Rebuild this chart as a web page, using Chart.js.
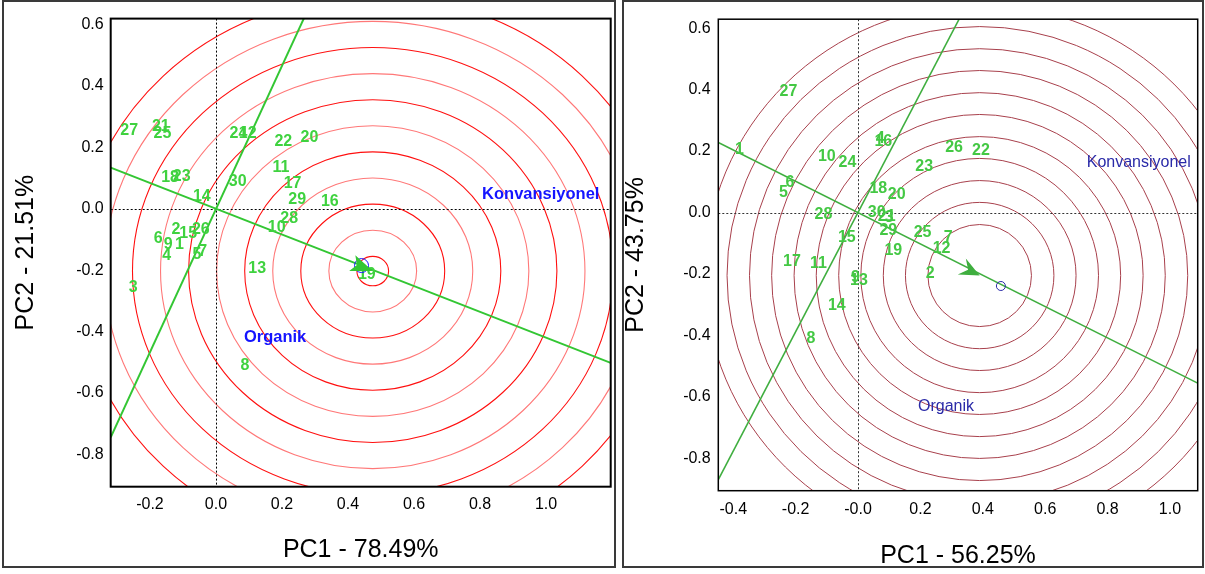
<!DOCTYPE html>
<html><head><meta charset="utf-8">
<script src="https://cdn.jsdelivr.net/npm/chart.js@4.4.1/dist/chart.umd.min.js"></script>
<style>
html,body{margin:0;padding:0;background:#fff;width:1205px;height:574px;overflow:hidden;}
.frame{position:absolute;box-sizing:border-box;border:2px solid #3a3a3a;}
canvas{position:absolute;}
</style></head><body>
<div class="frame" style="left:2px;top:0px;width:614px;height:568px"></div>
<div class="frame" style="left:622px;top:0px;width:582px;height:568px"></div>
<canvas id="left" width="610" height="564" style="left:4px;top:2px"></canvas>
<canvas id="right" width="578" height="564" style="left:624px;top:2px"></canvas>
<script>
// ---------- LEFT BIPLOT DATA ----------
const leftGenotypes = ['1','2','3','4','5','6','7','8','9','10','11','12','13','14','15','16','17','18','19','20','21','22','23','24','25','26','27','28','29','30'];
const leftPC1 = [-0.111,-0.121,-0.251,-0.149,-0.058,-0.175,-0.040,0.088,-0.145,0.184,0.197,0.096,0.125,-0.043,-0.084,0.345,0.232,-0.139,0.457,0.283,-0.167,0.204,-0.104,0.068,-0.162,-0.046,-0.263,0.222,0.246,0.066];
const leftPC2 = [-0.116,-0.069,-0.257,-0.153,-0.148,-0.098,-0.141,-0.511,-0.116,-0.063,0.135,0.243,-0.194,0.040,-0.081,0.023,0.083,0.101,-0.214,0.233,0.268,0.217,0.106,0.243,0.243,-0.067,0.254,-0.032,0.030,0.087];
const leftEnvNames = ['Konvansiyonel','Organik'];
const leftEnvPC1 = [0.984, 0.179];
const leftEnvPC2 = [0.047, -0.418];
const leftAbscissaX = [-0.319, 1.196];
const leftAbscissaY = [0.134, -0.502];
const leftOrdinateX = [-0.319, 0.266];
const leftOrdinateY = [-0.744, 0.619];
const leftIdeal = [0.475, -0.203];
const leftAvgEnv = [0.441, -0.185];
const leftRingRadii = [0.048,0.133,0.218,0.303,0.388,0.473,0.558,0.643,0.728,0.813,0.898];
const leftXTickValues = [-0.2,0,0.2,0.4,0.6,0.8,1.0];
const leftXTickLabels = ['-0.2','0.0','0.2','0.4','0.6','0.8','1.0'];
const leftYTickValues = [0.6,0.4,0.2,0,-0.2,-0.4,-0.6,-0.8];
const leftYTickLabels = ['0.6','0.4','0.2','0.0','-0.2','-0.4','-0.6','-0.8'];
const leftXRange = [-0.319, 1.196];
const leftYRange = [-0.905, 0.619];
const leftXTitle = 'PC1 - 78.49%';
const leftYTitle = 'PC2 - 21.51%';

// ---------- RIGHT BIPLOT DATA ----------
const rightGenotypes = ['1','2','3','4','5','6','7','8','9','10','11','12','13','14','15','16','17','18','19','20','21','22','23','24','25','26','27','28','29','30'];
const rightPC1 = [-0.380,0.231,0.100,0.071,-0.239,-0.218,0.289,-0.151,-0.008,-0.100,-0.127,0.268,0.003,-0.068,-0.036,0.081,-0.212,0.065,0.113,0.124,0.092,0.394,0.212,-0.034,0.207,0.308,-0.223,-0.111,0.097,0.060];
const rightPC2 = [0.204,-0.199,-0.018,0.240,0.066,0.096,-0.080,-0.410,-0.212,0.182,-0.167,-0.116,-0.220,-0.302,-0.082,0.232,-0.159,0.077,-0.123,0.058,-0.012,0.201,0.149,0.163,-0.066,0.210,0.394,-0.006,-0.058,-0.001];
const rightEnvNames = ['Konvansiyonel','Organik'];
const rightEnvPC1 = [0.900, 0.282];
const rightEnvPC2 = [0.163, -0.632];
const rightAbscissaX = [-0.448, 1.089];
const rightAbscissaY = [0.228, -0.555];
const rightOrdinateX = [-0.448, 0.324];
const rightOrdinateY = [-0.869, 0.629];
const rightIdeal = [0.390, -0.205];
const rightAvgEnv = [0.458, -0.239];
const rightRingRadii = [0.166,0.238,0.309,0.381,0.452,0.524,0.595,0.667,0.738,0.810,0.881];
const rightXTickValues = [-0.4,-0.2,0,0.2,0.4,0.6,0.8,1.0];
const rightXTickLabels = ['-0.4','-0.2','-0.0','0.2','0.4','0.6','0.8','1.0'];
const rightYTickValues = [0.6,0.4,0.2,0,-0.2,-0.4,-0.6,-0.8];
const rightYTickLabels = ['0.6','0.4','0.2','0.0','-0.2','-0.4','-0.6','-0.8'];
const rightXRange = [-0.448, 1.089];
const rightYRange = [-0.905, 0.629];
const rightXTitle = 'PC1 - 56.25%';
const rightYTitle = 'PC2 - 43.75%';

const FONT = '"Liberation Sans", Arial, Helvetica, sans-serif';

function pts(xs, ys){ return xs.map((x,i)=>({x:x, y:ys[i]})); }

const biplotPlugin = {
  id: 'biplot',
  beforeDatasetsDraw(chart, args, o) {
    const {ctx, chartArea:a, scales:{x:xs, y:ys}} = chart;
    ctx.save();
    ctx.beginPath(); ctx.rect(a.left, a.top, a.right-a.left, a.bottom-a.top); ctx.clip();
    const cx = xs.getPixelForValue(o.ideal[0]), cy = ys.getPixelForValue(o.ideal[1]);
    o.rings.forEach((r, k) => {
      const rx = Math.abs(xs.getPixelForValue(o.ideal[0]+r) - cx);
      const ry = Math.abs(ys.getPixelForValue(o.ideal[1]+r) - cy);
      ctx.beginPath();
      ctx.ellipse(cx, cy, rx, ry, 0, 0, Math.PI*2);
      ctx.strokeStyle = o.ringColors[k % o.ringColors.length];
      ctx.lineWidth = o.ringWidth;
      ctx.stroke();
    });
    ctx.setLineDash(o.zeroDash);
    ctx.strokeStyle = o.zeroColor; ctx.lineWidth = 1;
    const x0 = Math.round(xs.getPixelForValue(0)) + 0.5;
    const y0 = Math.round(ys.getPixelForValue(0)) + 0.5;
    ctx.beginPath(); ctx.moveTo(x0, a.top); ctx.lineTo(x0, a.bottom); ctx.stroke();
    ctx.beginPath(); ctx.moveTo(a.left, y0); ctx.lineTo(a.right, y0); ctx.stroke();
    ctx.restore();
  },
  afterDatasetsDraw(chart, args, o) {
    const {ctx, chartArea:a, scales:{x:xs, y:ys}} = chart;
    ctx.save();
    ctx.beginPath(); ctx.rect(a.left, a.top, a.right-a.left, a.bottom-a.top); ctx.clip();
    const meta = chart.getDatasetMeta(0);
    ctx.font = o.labelFont; ctx.fillStyle = o.labelColor;
    ctx.textAlign = 'center'; ctx.textBaseline = 'middle';
    meta.data.forEach((el, i) => { ctx.fillText(o.labels[i], el.x, el.y); });
    ctx.font = o.envFont; ctx.fillStyle = o.envColor;
    o.envNames.forEach((n, i) => {
      ctx.fillText(n, xs.getPixelForValue(o.envX[i]), ys.getPixelForValue(o.envY[i]));
    });
    ctx.beginPath();
    ctx.arc(xs.getPixelForValue(o.avgEnv[0]), ys.getPixelForValue(o.avgEnv[1]), o.markerR, 0, Math.PI*2);
    ctx.strokeStyle = o.envColor; ctx.lineWidth = 1; ctx.stroke();
    const p0x = xs.getPixelForValue(o.dirX[0]), p0y = ys.getPixelForValue(o.dirY[0]);
    const p1x = xs.getPixelForValue(o.dirX[1]), p1y = ys.getPixelForValue(o.dirY[1]);
    let ux = p1x-p0x, uy = p1y-p0y; const len = Math.hypot(ux, uy); ux/=len; uy/=len;
    const nx = -uy, ny = ux;
    const tx = xs.getPixelForValue(o.ideal[0]), ty = ys.getPixelForValue(o.ideal[1]);
    const L = o.arrow[0], W = o.arrow[1], N = o.arrow[2];
    const bx = tx-ux*L, by = ty-uy*L;
    ctx.beginPath();
    ctx.moveTo(tx, ty);
    ctx.lineTo(bx+nx*W, by+ny*W);
    ctx.lineTo(tx-ux*N, ty-uy*N);
    ctx.lineTo(bx-nx*W, by-ny*W);
    ctx.closePath();
    ctx.fillStyle = o.arrowColor; ctx.fill();
    ctx.restore();
    ctx.save();
    ctx.strokeStyle = '#000'; ctx.lineWidth = o.boxWidth;
    ctx.strokeRect(a.left, a.top, a.right-a.left, a.bottom-a.top);
    ctx.restore();
  }
};

function makeChart(id, d) {
  const tickFont = {family: FONT, size: 16};
  const titleFont = {family: FONT, size: 25, lineHeight: d.titleLH};
  new Chart(document.getElementById(id), {
    type: 'scatter',
    data: { datasets: [
      { data: pts(d.px, d.py), pointRadius: 0, showLine: false },
      { data: pts(d.abX, d.abY), showLine: true, pointRadius: 0, borderColor: d.lineColor, borderWidth: d.lineWidth },
      { data: pts(d.orX, d.orY), showLine: true, pointRadius: 0, borderColor: d.lineColor, borderWidth: d.lineWidth }
    ]},
    options: {
      responsive: false, animation: false, events: [],
      layout: { padding: d.padding },
      plugins: {
        legend: {display: false}, tooltip: {enabled: false},
        biplot: {
          ideal: d.ideal, rings: d.rings, ringColors: d.ringColors, ringWidth: d.ringWidth,
          zeroDash: d.zeroDash, zeroColor: d.zeroColor,
          labels: d.labels, labelFont: d.labelFont, labelColor: d.labelColor,
          envNames: d.envNames, envX: d.envX, envY: d.envY, envFont: d.envFont, envColor: d.envColor,
          avgEnv: d.avgEnv, markerR: d.markerR,
          dirX: d.abX, dirY: d.abY, arrow: d.arrow, arrowColor: d.lineColor, boxWidth: d.boxWidth
        }
      },
      scales: {
        x: {
          type: 'linear', bounds: 'data', min: d.xRange[0], max: d.xRange[1],
          afterBuildTicks: s => { s.ticks = d.xTickValues.map(v => ({value: v})); },
          afterFit: s => { s.height = d.xAxisH; },
          ticks: { callback: (v, i) => d.xTickLabels[i], font: tickFont, color: '#000', padding: d.xTickPad, autoSkip: false, maxRotation: 0 },
          grid: { display: false, drawTicks: false }, border: { display: false },
          title: { display: true, text: d.xTitle, font: titleFont, color: '#000', padding: {top: 0, bottom: d.xTitlePad} }
        },
        y: {
          type: 'linear', bounds: 'data', min: d.yRange[0], max: d.yRange[1],
          afterBuildTicks: s => { s.ticks = d.yTickValues.map(v => ({value: v})); },
          afterFit: s => { s.width = d.yAxisW; },
          ticks: { callback: (v, i) => d.yTickLabels[i], font: tickFont, color: '#000', padding: d.yTickPad, autoSkip: false },
          grid: { display: false, drawTicks: false }, border: { display: false },
          title: { display: true, text: d.yTitle, font: titleFont, color: '#000', padding: {top: d.yTitlePad, bottom: 0} }
        }
      }
    },
    plugins: [biplotPlugin]
  });
}

makeChart('left', {
  px: leftPC1, py: leftPC2, labels: leftGenotypes,
  abX: leftAbscissaX, abY: leftAbscissaY, orX: leftOrdinateX, orY: leftOrdinateY,
  ideal: leftIdeal, avgEnv: leftAvgEnv, rings: leftRingRadii,
  envNames: leftEnvNames, envX: leftEnvPC1, envY: leftEnvPC2,
  xRange: leftXRange, yRange: leftYRange,
  xTickValues: leftXTickValues, xTickLabels: leftXTickLabels,
  yTickValues: leftYTickValues, yTickLabels: leftYTickLabels,
  xTitle: leftXTitle, yTitle: leftYTitle,
  padding: {top: 4.7, right: 3.3, left: 0, bottom: 0},
  xAxisH: 79.3, yAxisW: 106.7, xTickPad: 8, yTickPad: 7,
  titleLH: 1, xTitlePad: 3.8, yTitlePad: 10,
  ringColors: ['#ff1010', '#ff7878'], ringWidth: 1.1,
  zeroDash: [2, 2], zeroColor: '#000',
  lineColor: '#33c633', lineWidth: 2,
  labelFont: 'bold 16px ' + FONT, labelColor: '#3fd23f',
  envFont: 'bold 16.5px ' + FONT, envColor: '#1414ff',
  markerR: 7, arrow: [22, 8.5, 17], boxWidth: 2
});

makeChart('right', {
  px: rightPC1, py: rightPC2, labels: rightGenotypes,
  abX: rightAbscissaX, abY: rightAbscissaY, orX: rightOrdinateX, orY: rightOrdinateY,
  ideal: rightIdeal, avgEnv: rightAvgEnv, rings: rightRingRadii,
  envNames: rightEnvNames, envX: rightEnvPC1, envY: rightEnvPC2,
  xRange: rightXRange, yRange: rightYRange,
  xTickValues: rightXTickValues, xTickLabels: rightXTickLabels,
  yTickValues: rightYTickValues, yTickLabels: rightYTickLabels,
  xTitle: rightXTitle, yTitle: rightYTitle,
  padding: {top: 16.3, right: 4.3, left: 0, bottom: 0},
  xAxisH: 75.3, yAxisW: 94.3, xTickPad: 9, yTickPad: 7.6,
  titleLH: 0.8, xTitlePad: 0, yTitlePad: 2,
  ringColors: ['#a8404c'], ringWidth: 1,
  zeroDash: [2, 2], zeroColor: '#333',
  lineColor: '#3fae3f', lineWidth: 1.6,
  labelFont: 'bold 16px ' + FONT, labelColor: '#44c844',
  envFont: '16px ' + FONT, envColor: '#2a2aa8',
  markerR: 4.5, arrow: [20, 9, 13], boxWidth: 1.5
});
</script>
</body></html>
